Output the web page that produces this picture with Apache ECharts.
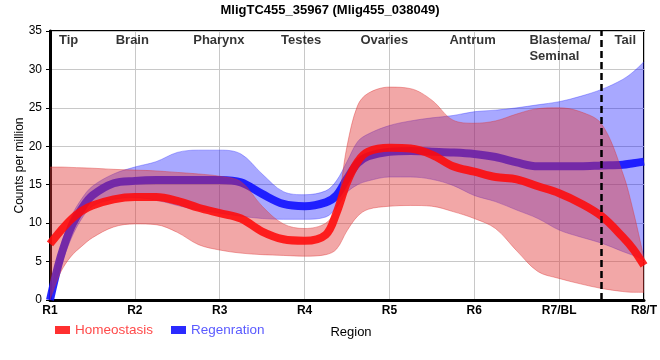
<!DOCTYPE html>
<html>
<head>
<meta charset="utf-8">
<script src="https://cdn.jsdelivr.net/npm/echarts@6/dist/echarts.min.js"></script>
<style>html,body{margin:0;padding:0;background:#fff}#c{width:660px;height:360px}</style>
</head>
<body>
<div id="c"></div>
<script>
// ---- data ----
const titleText = 'MligTC455_35967 (Mlig455_038049)';
const xTickLabels = ['R1', 'R2', 'R3', 'R4', 'R5', 'R6', 'R7/BL', 'R8/T'];
const regionNames = ['Tip', 'Brain', 'Pharynx', 'Testes', 'Ovaries', 'Antrum', 'Blastema/\nSeminal', 'Tail'];
const xs = [0, 0.125, 0.25, 0.375, 0.5, 0.75, 1, 1.25, 1.5, 1.75, 2, 2.25, 2.5, 2.75, 3, 3.25, 3.375, 3.5, 3.625, 3.75, 4, 4.25, 4.5, 4.75, 5, 5.25, 5.5, 5.75, 6, 6.25, 6.5, 6.75, 6.875, 7];
const homMean  = [7.3, 9.0, 10.5, 11.6, 12.3, 13.1, 13.4, 13.4, 12.9, 12.0, 11.3, 10.6, 8.9, 7.9, 7.7, 8.5, 11.3, 15.3, 18.0, 19.3, 19.8, 19.7, 18.9, 17.4, 16.7, 16.0, 15.7, 14.8, 13.9, 12.6, 10.9, 8.2, 6.6, 4.5];
const homUpper = [17.3, 17.3, 17.25, 17.2, 17.15, 17.0, 16.9, 16.8, 16.6, 16.4, 16.1, 15.4, 12.2, 9.9, 9.3, 10.0, 12.0, 20.0, 25.3, 26.9, 27.7, 27.5, 26.0, 23.4, 23.0, 23.3, 24.2, 24.9, 25.0, 24.5, 22.9, 16.5, 11.5, 5.4];
const homLower = [0.0, 3.6, 5.7, 7.0, 8.1, 9.5, 9.9, 9.8, 8.8, 7.2, 6.5, 6.1, 5.9, 5.8, 5.7, 5.9, 6.6, 9.0, 10.9, 11.8, 12.2, 12.3, 12.2, 11.5, 10.6, 9.3, 6.4, 3.7, 2.8, 2.1, 1.5, 1.1, 1.0, 1.0];
const regMean  = [0.0, 5.6, 9.5, 11.9, 13.6, 15.2, 15.5, 15.6, 15.6, 15.6, 15.6, 15.3, 13.8, 12.5, 12.2, 12.7, 13.6, 15.8, 17.8, 18.7, 19.3, 19.4, 19.3, 19.2, 19.0, 18.6, 17.9, 17.4, 17.4, 17.4, 17.5, 17.6, 17.8, 18.0];
const regUpper = [0.3, 6.8, 10.8, 13.2, 14.8, 16.4, 17.3, 18.0, 19.2, 19.5, 19.5, 19.0, 16.4, 14.1, 13.7, 14.2, 15.5, 18.0, 20.6, 21.6, 22.7, 23.3, 23.7, 24.0, 24.5, 24.7, 25.0, 25.4, 25.8, 26.5, 27.4, 28.7, 29.7, 31.0];
const regLower = [0.0, 4.3, 8.0, 10.6, 12.2, 13.1, 13.3, 13.0, 12.3, 11.7, 11.3, 10.9, 10.6, 10.5, 10.5, 10.8, 12.0, 14.0, 15.0, 15.5, 16.0, 16.0, 15.7, 14.9, 13.6, 12.8, 11.7, 10.6, 9.1, 8.2, 7.4, 6.3, 5.8, 5.2];
const seriesNames = ['Homeostasis', 'Regenration'];
const tailBoundary = 6.5;

// ---- build options ----
const FONT = "'Liberation Sans', Arial, sans-serif";
const pairs = (ys) => xs.map((x, i) => [x, ys[i]]);
// for stacked band series: value first (so it is the stacked dimension), x second
const yx = (ys) => xs.map((x, i) => [ys[i], x]);
const yxDiff = (up, lo) => xs.map((x, i) => [+(up[i] - lo[i]).toFixed(3), x]);
const regionAnchorX = [0.22, 0.97, 1.99, 2.96, 3.94, 4.98, 5.65, 6.78];
const regionAnchorY = [33.8, 33.8, 33.8, 33.8, 33.8, 33.8, 32.75, 33.8];

const labelData = regionNames.map((n, i) => {
  const item = { name: n, value: [regionAnchorX[i], regionAnchorY[i]] };
  if (n.indexOf('\n') >= 0) {
    item.label = { position: 'right', distance: 0, align: 'left' };
  }
  return item;
});

const smooth = 0.35;
const bandEnc = { x: 1, y: 0 };
const chart = echarts.init(document.getElementById('c'), null, { renderer: 'canvas' });
chart.setOption({
  animation: false,
  textStyle: { fontFamily: FONT },
  title: {
    text: titleText, left: 'center', top: -1,
    textStyle: { fontFamily: FONT, fontSize: 13, fontWeight: 'bold', color: '#000' }
  },
  grid: { left: 50, right: 10, top: 31, bottom: 60, show: true, borderColor: '#000', borderWidth: 2, backgroundColor: 'transparent' },
  legend: {
    left: 55, top: 323, padding: 0, icon: 'rect', itemWidth: 15, itemHeight: 8, itemGap: 18,
    data: [
      { name: seriesNames[0], textStyle: { color: '#ff4a4a' } },
      { name: seriesNames[1], textStyle: { color: '#5a5aff' } }
    ],
    textStyle: { fontFamily: FONT, fontSize: 13.5 }
  },
  xAxis: {
    type: 'value', min: 0, max: 7, interval: 1,
    name: 'Region', nameLocation: 'middle', nameGap: 26, nameMoveOverlap: false,
    nameTextStyle: { fontFamily: FONT, fontSize: 13, color: '#000', padding: [0, 0, 0, 8] },
    axisLine: { lineStyle: { color: '#000', width: 3 } },
    axisTick: { show: false },
    axisLabel: { formatter: (v) => xTickLabels[Math.round(v)] || '', color: '#000', fontWeight: 'bold', fontSize: 12, margin: 5, fontFamily: FONT },
    splitLine: { show: true, lineStyle: { color: '#c8c8c8', width: 1 } }
  },
  yAxis: {
    type: 'value', min: 0, max: 35, interval: 5,
    name: 'Counts per million', nameLocation: 'middle', nameGap: 24, nameMoveOverlap: false,
    nameTextStyle: { fontFamily: FONT, fontSize: 12, color: '#000' },
    axisLine: { show: true, lineStyle: { color: '#000', width: 3 } },
    axisTick: { show: true, length: 4, lineStyle: { color: '#000', width: 1 } },
    axisLabel: { color: '#000', fontSize: 12, margin: 8, fontFamily: FONT },
    splitLine: { show: true, lineStyle: { color: '#c8c8c8', width: 1 } }
  },
  series: [
    { name: 'regLower', type: 'line', z: 2, stack: 'reg', encode: bandEnc, data: yx(regLower), smooth, symbol: 'none', silent: true,
      lineStyle: { width: 0.8, color: 'rgba(40,40,255,0.45)' } },
    { name: 'regBand', type: 'line', z: 2, stack: 'reg', encode: bandEnc, data: yxDiff(regUpper, regLower), smooth, symbol: 'none', silent: true,
      lineStyle: { width: 0.8, color: 'rgba(40,40,255,0.45)' }, areaStyle: { color: 'rgba(0,0,255,0.34)', opacity: 1 } },
    { name: seriesNames[1], type: 'line', z: 3, data: pairs(regMean), smooth, symbol: 'none',
      itemStyle: { color: '#2a2aff' }, lineStyle: { width: 8, color: 'rgba(20,20,255,0.92)' } },
    { name: 'homLower', type: 'line', z: 4, stack: 'hom', encode: bandEnc, data: yx(homLower), smooth, symbol: 'none', silent: true,
      lineStyle: { width: 0.8, color: 'rgba(220,50,50,0.5)' } },
    { name: 'homBand', type: 'line', z: 4, stack: 'hom', encode: bandEnc, data: yxDiff(homUpper, homLower), smooth, symbol: 'none', silent: true,
      lineStyle: { width: 0.8, color: 'rgba(220,50,50,0.5)' }, areaStyle: { color: 'rgba(225,55,55,0.44)', opacity: 1 } },
    { name: seriesNames[0], type: 'line', z: 5, data: pairs(homMean), smooth, symbol: 'none',
      itemStyle: { color: '#ff3030' }, lineStyle: { width: 8, color: 'rgba(255,10,10,0.88)' },
      markLine: { symbol: 'none', silent: true, z: 6, label: { show: false },
        lineStyle: { color: '#000', type: [7, 4], width: 2.5 },
        data: [{ xAxis: tailBoundary }] } },
    { name: 'regions', type: 'scatter', data: labelData, symbolSize: 0, silent: true, z: 10,
      label: { show: true, position: 'inside', formatter: (p) => p.name, color: '#000', fontWeight: 'bold', fontSize: 13, lineHeight: 16, fontFamily: FONT } }
  ]
});
</script>
</body>
</html>
